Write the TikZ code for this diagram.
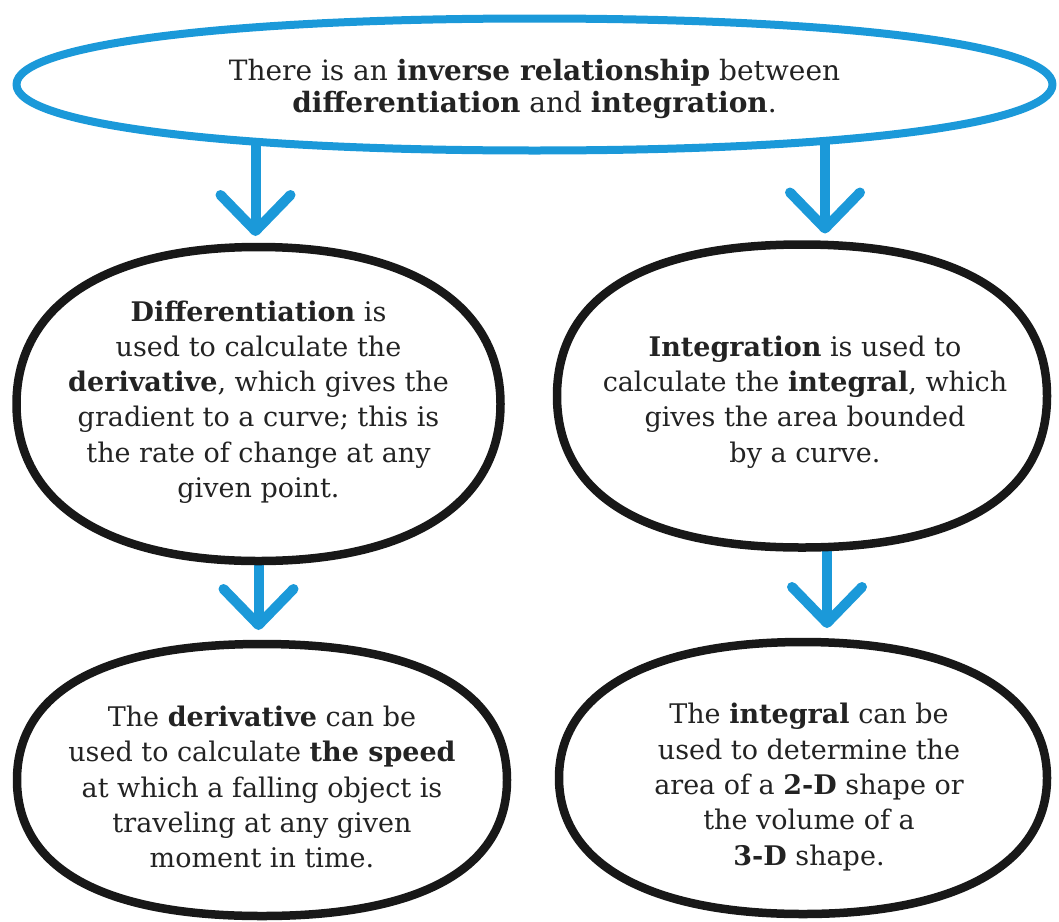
\documentclass[tikz,border=0pt]{standalone}
\usepackage{fontspec}
\setmainfont{DejaVu Serif}
\usetikzlibrary{calc,arrows.meta,backgrounds}
\definecolor{skyblue}{RGB}{27,153,217}
\definecolor{inkblack}{RGB}{24,24,24}
\definecolor{textgray}{RGB}{35,35,35}
\newcommand{\blobpath}[2]{(#1.north) .. controls ($(#1.north)!#2!(#1.north east)$) and ($(#1.east)!#2!(#1.north east)$) .. (#1.east) .. controls ($(#1.east)!#2!(#1.south east)$) and ($(#1.south)!#2!(#1.south east)$) .. (#1.south) .. controls ($(#1.south)!#2!(#1.south west)$) and ($(#1.west)!#2!(#1.south west)$) .. (#1.west) .. controls ($(#1.west)!#2!(#1.north west)$) and ($(#1.north)!#2!(#1.north west)$) .. cycle}
\begin{document}
\begin{tikzpicture}[x=1pt,y=-1pt,
  frame/.style={rectangle, inner sep=0pt, outer sep=0pt},
  bubble/.style={draw=inkblack, line width=8.5pt, fill=white, line join=round},
  topbubble/.style={bubble, draw=skyblue, line width=8pt},
  txt/.style={align=center, text=textgray, inner sep=0pt, font=\fontsize{27}{35.3}\selectfont},
  toptxt/.style={txt, font=\fontsize{28}{32.5}\selectfont},
  flow/.style={draw=skyblue, line width=10pt, line cap=round, -{Straight Barb[length=36pt, width=70pt, round]}}
]
\useasboundingbox (0,0) rectangle (1059,921);

\node[frame, minimum width=1036pt, minimum height=132pt] (top) at (534.5,84.5) {};
\node[frame, minimum width=484pt, minimum height=314pt] (midL) at (258.5,404) {};
\node[frame, minimum width=490pt, minimum height=303pt] (midR) at (802,396) {};
\node[frame, minimum width=490pt, minimum height=272pt] (botL) at (262,780) {};
\node[frame, minimum width=488pt, minimum height=272pt] (botR) at (803,778) {};

\coordinate (aL) at ([xshift=-3pt]midL.north);
\coordinate (aR) at ([xshift=23pt]midR.north);
\coordinate (bL) at (midL.center);
\coordinate (bR) at ([xshift=25pt]midR.center);

\begin{scope}[on background layer]
  \draw[flow, shorten >=11pt] (aL |- top.center) -- (aL);
  \draw[flow, shorten >=11pt] (aR |- top.center) -- (aR);
  \draw[flow, shorten >=14pt] (bL) -- (bL |- botL.north);
  \draw[flow, shorten >=14pt] (bR) -- (bR |- botR.north);
\end{scope}

\filldraw[topbubble] \blobpath{top}{0.6};
\filldraw[bubble] \blobpath{midL}{0.63};
\filldraw[bubble] \blobpath{midR}{0.65};
\filldraw[bubble] \blobpath{botL}{0.65};
\filldraw[bubble] \blobpath{botR}{0.63};

\node[toptxt] (topT) at (534.5,89) {There is an \textbf{inverse relationship} between\\\textbf{differentiation} and \textbf{integration}.};
\node[txt] (midLT) at (258.5,402) {\textbf{Differentiation} is\\used to calculate the\\\textbf{derivative}, which gives the\\gradient to a curve; this is\\the rate of change at any\\given point.};
\node[txt] (midRT) at (805,402) {\textbf{Integration} is used to\\calculate the \textbf{integral}, which\\gives the area bounded\\by a curve.};
\node[txt] (botLT) at (262,787) {The \textbf{derivative} can be\\used to calculate \textbf{the speed}\\at which a falling object is\\traveling at any given\\moment in time.};
\node[txt] (botRT) at (809,787) {The \textbf{integral} can be\\used to determine the\\area of a \textbf{2-D} shape or\\the volume of a\\\textbf{3-D} shape.};
\end{tikzpicture}
\end{document}
